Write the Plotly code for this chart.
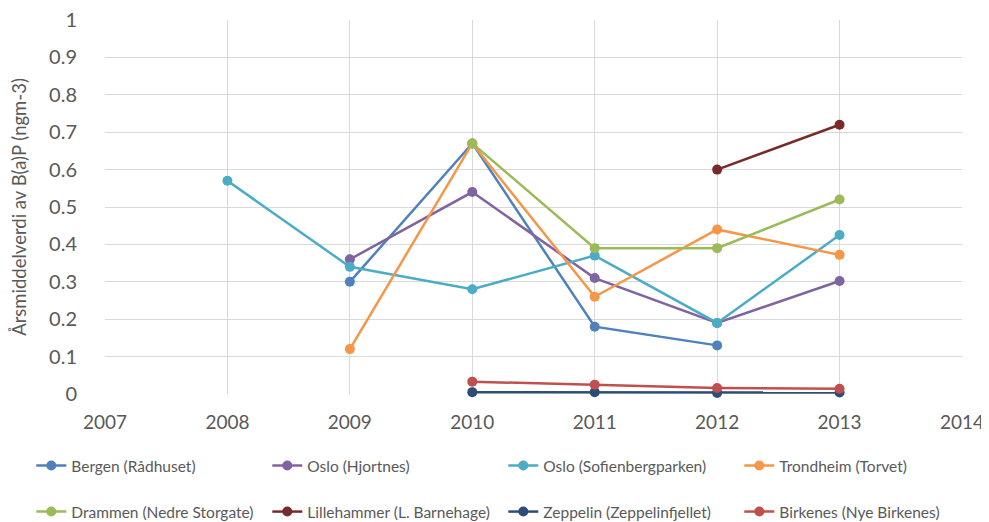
import plotly.graph_objects as go

years = [2008, 2009, 2010, 2011, 2012, 2013]

bergen = [None, 0.30, 0.67, 0.18, 0.13, None]
oslo_hjortnes = [None, 0.36, 0.54, 0.31, 0.19, 0.302]
oslo_sofienberg = [0.57, 0.34, 0.28, 0.37, 0.19, 0.425]
trondheim = [None, 0.12, 0.67, 0.26, 0.44, 0.372]
drammen = [None, None, 0.67, 0.39, 0.39, 0.52]
lillehammer = [None, None, None, None, 0.60, 0.72]
zeppelin = [None, None, 0.005, 0.005, 0.003, 0.004]
birkenes = [None, None, 0.033, 0.025, 0.016, 0.014]

series = [
    ("Bergen (Rådhuset)", bergen, "#4F81BD", "legend"),
    ("Oslo (Hjortnes)", oslo_hjortnes, "#8064A2", "legend"),
    ("Oslo (Sofienbergparken)", oslo_sofienberg, "#4BACC6", "legend"),
    ("Trondheim (Torvet)", trondheim, "#F79646", "legend"),
    ("Drammen (Nedre Storgate)", drammen, "#9BBB59", "legend2"),
    ("Lillehammer (L. Barnehage)", lillehammer, "#772C2A", "legend2"),
    ("Zeppelin (Zeppelinfjellet)", zeppelin, "#2C4D75", "legend2"),
    ("Birkenes (Nye Birkenes)", birkenes, "#C0504D", "legend2"),
]

x_ticks = [2007, 2008, 2009, 2010, 2011, 2012, 2013, 2014]
y_ticks = [0, 0.1, 0.2, 0.3, 0.4, 0.5, 0.6, 0.7, 0.8, 0.9, 1]

FONT = "Lato, Carlito, Calibri, sans-serif"

W, H = 981, 514

fig = go.Figure()
for name, vals, color, lg in series:
    fig.add_trace(go.Scatter(
        x=years, y=vals, name=name, mode="lines+markers",
        line=dict(color=color, width=2.5),
        marker=dict(color=color, size=10),
        legend=lg, cliponaxis=False,
    ))

legend_common = dict(
    orientation="h", xanchor="left", yanchor="middle",
    xref="paper", yref="paper",
    font=dict(family=FONT, size=15.5, color="#595959"),
    entrywidth=191, entrywidthmode="pixels",
    bgcolor="rgba(0,0,0,0)", itemwidth=30,
)

fig.update_layout(
    width=W, height=H,
    margin=dict(l=97, r=27, t=12, b=128, autoexpand=False),
    paper_bgcolor="white", plot_bgcolor="white",
    font=dict(family=FONT, color="#595959"),
    showlegend=True,
    legend=dict(x=-0.086, y=-0.1925, **legend_common),
    legend2=dict(x=-0.086, y=-0.3155, **legend_common),
    xaxis=dict(
        range=[2007, 2014], tickvals=x_ticks, ticktext=[str(t) for t in x_ticks],
        showgrid=True, gridcolor="#D9D9D9", gridwidth=1,
        showline=False, zeroline=False, ticks="outside", ticklen=11, tickcolor="rgba(0,0,0,0)",
        tickfont=dict(family=FONT, size=19, color="#595959"),
        ticklabeloverflow="allow",
    ),
    yaxis=dict(
        range=[0, 1], tickvals=y_ticks, ticktext=["0", "0.1", "0.2", "0.3", "0.4", "0.5", "0.6", "0.7", "0.8", "0.9", "1"],
        showgrid=True, gridcolor="#D9D9D9", gridwidth=1,
        showline=False, zeroline=False, ticks="outside", ticklen=23, tickcolor="rgba(0,0,0,0)",
        tickfont=dict(family=FONT, size=20, color="#595959"),
        ticklabeloverflow="allow",
        title=dict(text="Årsmiddelverdi av B(a)P (ngm-3)", font=dict(family=FONT, size=18.5, color="#595959"), standoff=20),
    ),
)

fig.write_html("out.html")
